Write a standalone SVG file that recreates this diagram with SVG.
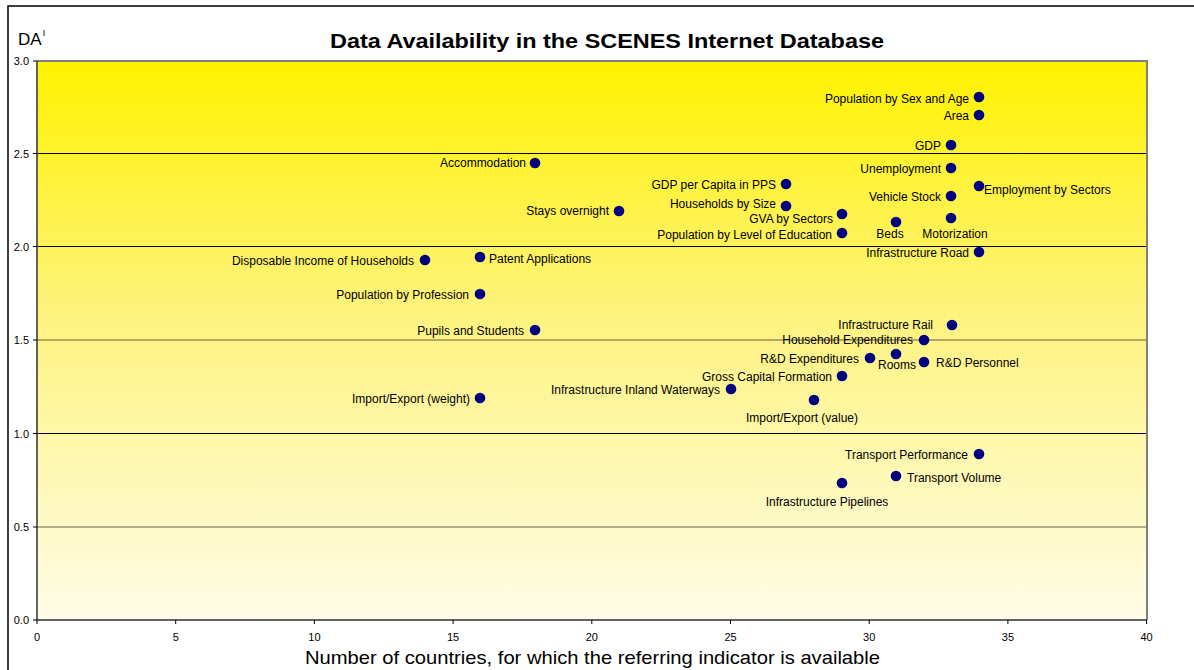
<svg xmlns="http://www.w3.org/2000/svg" width="1194" height="670" viewBox="0 0 1194 670">
<defs>
<linearGradient id="bg" x1="0" y1="0" x2="0" y2="1">
<stop offset="0" stop-color="#FFF200"/>
<stop offset="0.45" stop-color="#FEF37E"/>
<stop offset="1" stop-color="#FFFDE8"/>
</linearGradient>
<style>
text{font-family:"Liberation Sans",Arial,sans-serif;fill:#000}
.lb{font-size:12px}
.r{text-anchor:end}
.c{text-anchor:middle}
.tk{font-size:11px}
.pt{fill:#000080}
.grid{stroke:#000;stroke-width:1}
.tick{stroke:#000;stroke-width:1}
</style>
</defs>
<rect x="0" y="0" width="1194" height="670" fill="#fff"/>
<rect x="8" y="6" width="1200" height="700" fill="none" stroke="#000" stroke-width="1.5"/>
<text x="330" y="48" textLength="554" lengthAdjust="spacingAndGlyphs" style="font-size:21px;font-weight:bold">Data Availability in the SCENES Internet Database</text>
<text x="18" y="45" style="font-size:17px">DA<tspan dx="1" dy="-9" style="font-size:9px">I</tspan></text>
<g id="plot">
<rect x="37" y="61" width="1110" height="559" fill="url(#bg)"/>
<g id="gridlines">
<line class="grid" x1="37" y1="153.5" x2="1147" y2="153.5"/>
<line class="grid" x1="37" y1="246.5" x2="1147" y2="246.5"/>
<line class="grid" x1="37" y1="340" x2="1147" y2="340" stroke-opacity="0.6"/>
<line class="grid" x1="37" y1="433.5" x2="1147" y2="433.5"/>
<line class="grid" x1="37" y1="527" x2="1147" y2="527" stroke-opacity="0.6"/>
</g>
<path d="M37 61 H1147 V620" fill="none" stroke="#808080" stroke-width="2"/>
<path d="M37 61 V620 H1147" fill="none" stroke="#333" stroke-width="1.5"/>
</g>
<g id="axes">
<g class="tick">
<line x1="33" y1="61" x2="37" y2="61"/>
<line x1="33" y1="153.5" x2="37" y2="153.5"/>
<line x1="33" y1="246.5" x2="37" y2="246.5"/>
<line x1="33" y1="340" x2="37" y2="340"/>
<line x1="33" y1="433.5" x2="37" y2="433.5"/>
<line x1="33" y1="527" x2="37" y2="527"/>
<line x1="33" y1="620" x2="37" y2="620"/>
<line x1="37" y1="620" x2="37" y2="624"/>
<line x1="175.7" y1="620" x2="175.7" y2="624"/>
<line x1="314.4" y1="620" x2="314.4" y2="624"/>
<line x1="453.1" y1="620" x2="453.1" y2="624"/>
<line x1="591.8" y1="620" x2="591.8" y2="624"/>
<line x1="730.5" y1="620" x2="730.5" y2="624"/>
<line x1="869.2" y1="620" x2="869.2" y2="624"/>
<line x1="1007.9" y1="620" x2="1007.9" y2="624"/>
<line x1="1146.6" y1="620" x2="1146.6" y2="624"/>
</g>
<text class="tk r" x="29" y="65">3.0</text>
<text class="tk r" x="29" y="157.5">2.5</text>
<text class="tk r" x="29" y="250.5">2.0</text>
<text class="tk r" x="29" y="344">1.5</text>
<text class="tk r" x="29" y="437.5">1.0</text>
<text class="tk r" x="29" y="531">0.5</text>
<text class="tk r" x="29" y="624">0.0</text>
<text class="tk c" x="37" y="641">0</text>
<text class="tk c" x="175.7" y="641">5</text>
<text class="tk c" x="314.4" y="641">10</text>
<text class="tk c" x="453.1" y="641">15</text>
<text class="tk c" x="591.8" y="641">20</text>
<text class="tk c" x="730.5" y="641">25</text>
<text class="tk c" x="869.2" y="641">30</text>
<text class="tk c" x="1007.9" y="641">35</text>
<text class="tk c" x="1146.6" y="641">40</text>
<text x="305" y="664" textLength="575" lengthAdjust="spacingAndGlyphs" style="font-size:19px">Number of countries, for which the referring indicator is available</text>
</g>
<g id="points">
<g id="p1"><circle class="pt" cx="979" cy="97" r="5.3"/><text class="lb r" x="969" y="103">Population by Sex and Age</text></g>
<g id="p2"><circle class="pt" cx="979" cy="115" r="5.3"/><text class="lb r" x="969" y="120">Area</text></g>
<g id="p3"><circle class="pt" cx="951" cy="145" r="5.3"/><text class="lb r" x="941" y="150">GDP</text></g>
<g id="p4"><circle class="pt" cx="951" cy="168" r="5.3"/><text class="lb r" x="941" y="173">Unemployment</text></g>
<g id="p5"><circle class="pt" cx="979" cy="186" r="5.3"/><text class="lb" x="984" y="194">Employment by Sectors</text></g>
<g id="p6"><circle class="pt" cx="951" cy="196" r="5.3"/><text class="lb r" x="941" y="201">Vehicle Stock</text></g>
<g id="p7"><circle class="pt" cx="951" cy="218" r="5.3"/><text class="lb c" x="955" y="238">Motorization</text></g>
<g id="p8"><circle class="pt" cx="896" cy="222" r="5.3"/><text class="lb c" x="890" y="238">Beds</text></g>
<g id="p9"><circle class="pt" cx="842" cy="214" r="5.3"/><text class="lb r" x="833" y="223">GVA by Sectors</text></g>
<g id="p10"><circle class="pt" cx="842" cy="233" r="5.3"/><text class="lb r" x="832" y="239">Population by Level of Education</text></g>
<g id="p11"><circle class="pt" cx="979" cy="252" r="5.3"/><text class="lb r" x="969" y="257">Infrastructure Road</text></g>
<g id="p12"><circle class="pt" cx="535" cy="163" r="5.3"/><text class="lb r" x="526" y="167">Accommodation</text></g>
<g id="p13"><circle class="pt" cx="786" cy="184" r="5.3"/><text class="lb r" x="776" y="189">GDP per Capita in PPS</text></g>
<g id="p14"><circle class="pt" cx="786" cy="206" r="5.3"/><text class="lb r" x="776" y="208">Households by Size</text></g>
<g id="p15"><circle class="pt" cx="619" cy="211" r="5.3"/><text class="lb r" x="609" y="215">Stays overnight</text></g>
<g id="p16"><circle class="pt" cx="480" cy="257" r="5.3"/><text class="lb" x="489" y="263">Patent Applications</text></g>
<g id="p17"><circle class="pt" cx="425" cy="260" r="5.3"/><text class="lb r" x="414" y="265">Disposable Income of Households</text></g>
<g id="p18"><circle class="pt" cx="480" cy="294" r="5.3"/><text class="lb r" x="469" y="299">Population by Profession</text></g>
<g id="p19"><circle class="pt" cx="535" cy="330" r="5.3"/><text class="lb r" x="524" y="335">Pupils and Students</text></g>
<g id="p20"><circle class="pt" cx="952" cy="325" r="5.3"/><text class="lb r" x="933" y="329">Infrastructure Rail</text></g>
<g id="p21"><circle class="pt" cx="924" cy="340" r="5.3"/><text class="lb r" x="913" y="344">Household Expenditures</text></g>
<g id="p22"><circle class="pt" cx="870" cy="358" r="5.3"/><text class="lb r" x="859" y="363">R&amp;D Expenditures</text></g>
<g id="p23"><circle class="pt" cx="896" cy="354" r="5.3"/><text class="lb c" x="897" y="369">Rooms</text></g>
<g id="p24"><circle class="pt" cx="924" cy="362" r="5.3"/><text class="lb" x="936" y="367">R&amp;D Personnel</text></g>
<g id="p25"><circle class="pt" cx="842" cy="376" r="5.3"/><text class="lb r" x="832" y="381">Gross Capital Formation</text></g>
<g id="p26"><circle class="pt" cx="731" cy="389" r="5.3"/><text class="lb r" x="720" y="394">Infrastructure Inland Waterways</text></g>
<g id="p27"><circle class="pt" cx="814" cy="400" r="5.3"/><text class="lb c" x="802" y="422">Import/Export (value)</text></g>
<g id="p28"><circle class="pt" cx="480" cy="398" r="5.3"/><text class="lb r" x="470" y="403">Import/Export (weight)</text></g>
<g id="p29"><circle class="pt" cx="979" cy="454" r="5.3"/><text class="lb r" x="968" y="459">Transport Performance</text></g>
<g id="p30"><circle class="pt" cx="896" cy="476" r="5.3"/><text class="lb" x="907" y="482">Transport Volume</text></g>
<g id="p31"><circle class="pt" cx="842" cy="483" r="5.3"/><text class="lb c" x="827" y="506">Infrastructure Pipelines</text></g>
</g>
</svg>
